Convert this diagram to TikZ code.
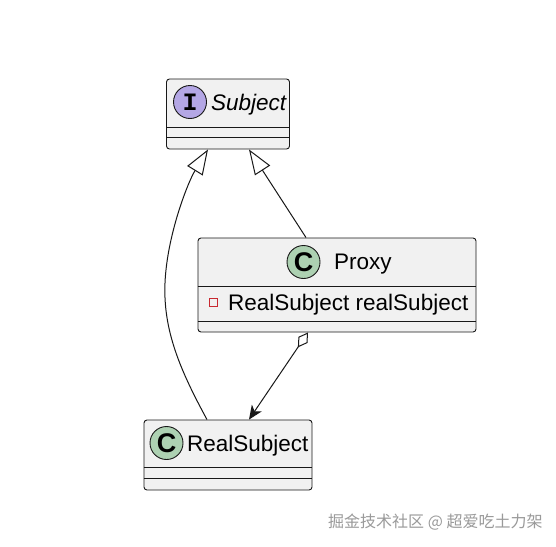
\documentclass[tikz,border=0pt]{standalone}
\usepackage{fontspec}
\setmainfont{Liberation Sans}
\newfontfamily\cjkfont{Noto Sans CJK SC}
\newfontfamily\badgemono{Liberation Mono}
\usetikzlibrary{arrows.meta}
\definecolor{boxfill}{HTML}{F1F1F1}
\definecolor{boxline}{HTML}{181818}
\definecolor{ifill}{HTML}{B4A7E5}
\definecolor{cfill}{HTML}{ADD1B2}
\definecolor{privred}{HTML}{C82930}
\definecolor{wmgray}{HTML}{9A9A9A}
\begin{document}
\begin{tikzpicture}[x=1pt,y=-1pt,
  classbox/.style={draw=boxline, fill=boxfill, line width=0.9pt, rounded corners=3pt, inner sep=0pt},
  sepline/.style={draw=boxline, line width=0.9pt},
  badge/.style={circle, draw=boxline, line width=0.9pt, minimum size=33pt, inner sep=0pt},
  lbl/.style={anchor=base west, inner sep=0pt, font=\fontsize{22.5}{26}\selectfont},
  conn/.style={draw=boxline, line width=1pt},
  realize/.style={conn, -{Triangle[open, length=25pt, width=18pt]}},
  aggr/.style={conn, {Diamond[open, length=18pt, width=11pt]}-{Stealth[length=14pt, width=12pt, inset=4pt]}},
]
\useasboundingbox[fill=white] (0,0) rectangle (556,546);

% Subject
\node[classbox, minimum width=123pt, minimum height=70pt] (subj) at (228,114) {};
\draw[sepline] (subj.west |- 0,127) -- (subj.east |- 0,127);
\draw[sepline] (subj.west |- 0,137) -- (subj.east |- 0,137);
\node[badge, fill=ifill] (subjbadge) at (190,102) {\badgemono\bfseries\fontsize{25}{25}\selectfont I};
\node[lbl, font=\itshape\fontsize{22.5}{26}\selectfont] (subjname) at (211,110) {Subject};

% Proxy
\node[classbox, minimum width=278pt, minimum height=94pt] (proxy) at (337,285) {};
\draw[sepline] (proxy.west |- 0,286) -- (proxy.east |- 0,286);
\draw[sepline] (proxy.west |- 0,321) -- (proxy.east |- 0,321);
\node[badge, fill=cfill] (proxybadge) at (303.5,262) {\bfseries\fontsize{27}{27}\selectfont C};
\node[lbl] (proxyname) at (334,269) {Proxy};
\node[draw=privred, line width=0.9pt, minimum size=8pt, inner sep=0pt] (priv) at (213,302) {};
\node[lbl] (attr) at (228,310) {RealSubject realSubject};

% RealSubject
\node[classbox, minimum width=168pt, minimum height=70pt] (rs) at (228,455) {};
\draw[sepline] (rs.west |- 0,467) -- (rs.east |- 0,467);
\draw[sepline] (rs.west |- 0,478) -- (rs.east |- 0,478);
\node[badge, fill=cfill] (rsbadge) at (166.5,443) {\bfseries\fontsize{27}{27}\selectfont C};
\node[lbl] (rsname) at (187,451) {RealSubject};

% connectors
\draw[realize] ([xshift=-31pt]proxy.north) -- ([xshift=21pt]subj.south);
\draw[realize] ([xshift=-21pt]rs.north) .. controls (180,370) and (163,330) .. (165,283)
  .. controls (167,235) and (188,182) .. ([xshift=-20pt]subj.south);
\draw[aggr] ([xshift=-29pt]proxy.south) -- ([xshift=21pt]rs.north);

% watermark
\node[anchor=west, inner sep=0pt, text=wmgray, font=\cjkfont\fontsize{16}{19}\selectfont] (wm) at (328,522) {掘金技术社区 @ 超爱吃土力架};
\end{tikzpicture}
\end{document}
